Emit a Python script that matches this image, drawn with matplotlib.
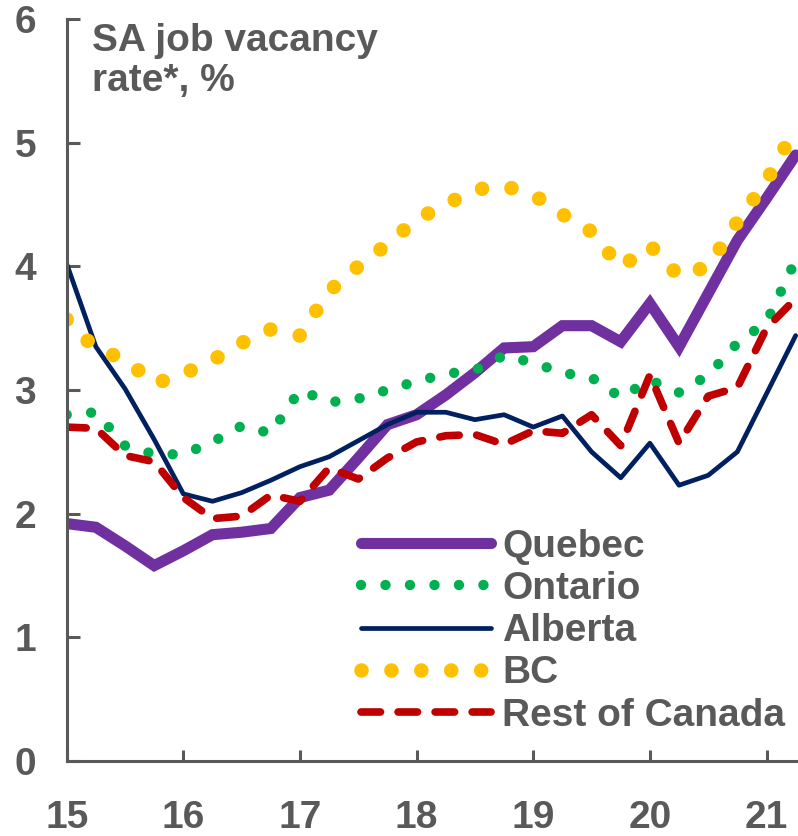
"""
Seasonally adjusted job vacancy rate by province, 2015-2021
"""
import matplotlib
matplotlib.use('Agg')
import matplotlib.pyplot as plt
import numpy as np

GREY = '#595959'
FS = 28
plt.rcParams['font.family'] = ['Liberation Sans', 'DejaVu Sans']
plt.rcParams['font.weight'] = 'bold'

# quarters, 2015Q1 .. 2021Q2 (year labels are 2-digit)
quarters = np.arange(15, 21.26, 0.25)

quebec = [1.92, 1.89, 1.74, 1.58, 1.70, 1.83, 1.85, 1.88, 2.13, 2.19, 2.45, 2.72, 2.80,
          2.96, 3.14, 3.34, 3.35, 3.52, 3.52, 3.39, 3.70, 3.35, 3.78, 4.21, 4.55, 4.90]
ontario = [2.80, 2.82, 2.55, 2.48, 2.48, 2.58, 2.71, 2.65, 3.00, 2.90, 2.93, 3.00, 3.07,
           3.13, 3.16, 3.28, 3.22, 3.14, 3.10, 2.94, 3.08, 2.98, 3.12, 3.38, 3.55, 4.05]
alberta = [4.02, 3.35, 3.01, 2.60, 2.16, 2.10, 2.17, 2.27, 2.38, 2.46, 2.59, 2.72, 2.82,
           2.82, 2.76, 2.80, 2.70, 2.79, 2.50, 2.29, 2.57, 2.23, 2.31, 2.50, 2.97, 3.44]
bc = [3.57, 3.33, 3.25, 3.05, 3.13, 3.24, 3.38, 3.49, 3.44, 3.80, 4.00, 4.18, 4.38,
      4.50, 4.62, 4.65, 4.58, 4.42, 4.28, 3.99, 4.17, 3.92, 4.00, 4.36, 4.69, 5.12]
rest_of_canada = [2.70, 2.69, 2.47, 2.42, 2.13, 1.96, 1.98, 2.15, 2.10, 2.37, 2.28, 2.45, 2.58,
                  2.63, 2.64, 2.56, 2.67, 2.65, 2.80, 2.55, 3.12, 2.57, 2.95, 3.02, 3.50, 3.74]

year_ticks = [15, 16, 17, 18, 19, 20, 21]
y_ticks = [0, 1, 2, 3, 4, 5, 6]

fig = plt.figure(figsize=(7.98, 8.36), dpi=100)
ax = fig.add_axes([0.0836, 0.0897, 0.9164, 0.8876])

ax.plot(quarters, quebec, color='#7030A0', lw=8, solid_capstyle='round',
        solid_joinstyle='miter', label='Quebec')
ax.plot(quarters, ontario, color='#00B050', lw=7.5, linestyle=(0, (0.001, 2.35)),
        dash_capstyle='round', label='Ontario')
ax.plot(quarters, alberta, color='#002060', lw=3.4, solid_capstyle='round', label='Alberta')
ax.plot(quarters, bc, color='#FFC000', lw=10.5, linestyle=(0, (0.001, 2.05)),
        dash_capstyle='round', label='BC')
ax.plot(quarters, rest_of_canada, color='#C00000', lw=5.5, linestyle=(0, (2.55, 2.3)),
        dash_capstyle='round', label='Rest of Canada')

ax.set_xlim(15, 21.27)
ax.set_ylim(0, 6)
ax.set_xticks(year_ticks)
ax.set_xticklabels([str(y) for y in year_ticks])
ax.set_yticks(y_ticks)

for side in ['top', 'right']:
    ax.spines[side].set_visible(False)
for side in ['left', 'bottom']:
    ax.spines[side].set_color(GREY)
    ax.spines[side].set_linewidth(2.2)

ax.tick_params(axis='both', direction='in', colors=GREY, width=2.2, labelsize=FS)
ax.tick_params(axis='y', length=9, pad=22)
ax.tick_params(axis='x', length=8, pad=28)

ax.text(0.035, 0.995, 'SA job vacancy\nrate*, %', transform=ax.transAxes, fontsize=FS,
        color=GREY, fontweight='bold', va='top', ha='left', linespacing=1.15)

leg = ax.legend(loc='upper left', bbox_to_anchor=(0.403, 0.313), frameon=False,
                fontsize=FS, handlelength=3.32, handletextpad=0.3, labelspacing=0.16,
                borderpad=0, borderaxespad=0)
for t in leg.get_texts():
    t.set_color(GREY)

plt.savefig('out.png', dpi=100)
